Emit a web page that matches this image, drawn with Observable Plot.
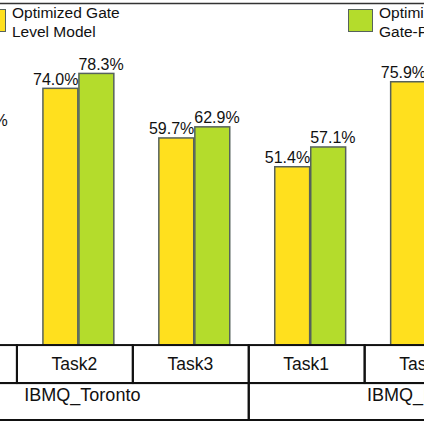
<!DOCTYPE html>
<html>
<head>
<meta charset="utf-8">
<script src="https://cdn.jsdelivr.net/npm/d3@7"></script>
<script src="https://cdn.jsdelivr.net/npm/@observablehq/plot@0.6"></script>
<style>
  body { margin: 0; background: white; overflow: hidden; }
  #chart { position: relative; width: 424px; height: 424px; overflow: hidden; font-family: "Liberation Sans", Arial, sans-serif; }
  .sw { position: absolute; width: 25px; height: 23px; border: 1.5px solid #56625c; box-sizing: border-box; }
  .lab { position: absolute; font-size: 15.5px; line-height: 19px; white-space: nowrap; color: #111; }
</style>
</head>
<body>
<div id="chart"></div>
<script>
// datos (null = barra fuera del recorte)
const devices = ["IBMQ_Toronto", "IBMQ_Montreal"]
const tasks = ["Task1", "Task2", "Task3"]
const gateLevel = [null, 74.0, 59.7, 51.4, 75.9, null]   // Optimized Gate Level Model
const gatePulse = [62.0, 78.3, 62.9, 57.1, 80.5, null]   // Optimized Gate-Pulse Model
const colors = ["#ffe01e", "#b4dc2c"]

// una fila por grupo (dispositivo x tarea)
let groups = []
devices.forEach((dev, di) => tasks.forEach((t, ti) => {
  let i = di * tasks.length + ti
  groups.push({i, dev, task: t, gate: gateLevel[i], pulse: gatePulse[i]})
}))
let devCells = devices.map((dev, di) => ({dev, first: di * tasks.length, last: di * tasks.length + tasks.length - 1}))

const fmt = v => d3.format(".1f")(v) + "%"
const barStroke = "#56625c"

let chart = Plot.plot({
  width: 424,
  height: 424,
  marginTop: 3,
  marginBottom: 4,
  marginLeft: 0,
  marginRight: 0,
  style: {fontFamily: "'Liberation Sans', Arial, sans-serif", background: "white", overflow: "hidden"},
  x: {type: "linear", domain: [0.354, 4.012], axis: null},
  y: {domain: [-21.6, 98.6], axis: null},
  marks: [
    Plot.frame({anchor: "top", stroke: "#333", strokeWidth: 1.5}),
    // barras
    Plot.rectY(groups.filter(d => d.gate != null), {
      x1: d => d.i - 0.5, x2: d => d.i + 0.5, y: "gate",
      insetLeft: 26, insetRight: 55, fill: colors[0], stroke: barStroke, strokeWidth: 1.5
    }),
    Plot.rectY(groups.filter(d => d.pulse != null), {
      x1: d => d.i - 0.5, x2: d => d.i + 0.5, y: "pulse",
      insetLeft: 62, insetRight: 19, fill: colors[1], stroke: barStroke, strokeWidth: 1.5
    }),
    // etiquetas de valor
    Plot.text(groups.filter(d => d.gate != null), {
      x: "i", y: "gate", text: d => fmt(d.gate), textAnchor: "end", lineAnchor: "bottom",
      dx: 3, dy: -4, fontSize: 16, fill: "#111"
    }),
    Plot.text(groups.filter(d => d.pulse != null), {
      x: "i", y: "pulse", text: d => fmt(d.pulse), textAnchor: "start", lineAnchor: "bottom",
      dx: 3, dy: -4, fontSize: 16, fill: "#111"
    }),
    // tabla de abajo: fila de tareas y fila de dispositivos
    Plot.rect(groups, {x1: d => d.i - 0.5, x2: d => d.i + 0.5, y1: -10.95, y2: 0, fill: "none", stroke: "#111", strokeWidth: 2}),
    Plot.rect(devCells, {x1: d => d.first - 0.5, x2: d => d.last + 0.5, y1: -21.6, y2: -10.95, fill: "none", stroke: "#111", strokeWidth: 2}),
    Plot.text(groups, {x: "i", y: -5.5, text: "task", fontSize: 17.5, fill: "#111", dx: -1}),
    Plot.text(devCells, {x: d => (d.first + d.last) / 2, y: -16.3, text: "dev", fontSize: 18, fill: "#111", dx: 7, dy: -7})
  ]
})

d3.select('#chart').append(() => chart)

// leyenda arriba, dentro del marco
const legend = [
  {left: -19, lines: ["Optimized Gate", "Level Model"]},
  {left: 348, lines: ["Optimized", "Gate-Pulse Model"]}
]
legend.forEach((l, k) => {
  d3.select('#chart').append('div').attr('class', 'sw')
    .style('left', l.left + 'px').style('top', '9px').style('background', colors[k])
  d3.select('#chart').append('div').attr('class', 'lab')
    .style('left', (l.left + 31) + 'px').style('top', '3px')
    .html(l.lines.join('<br>'))
})
</script>
</body>
</html>
